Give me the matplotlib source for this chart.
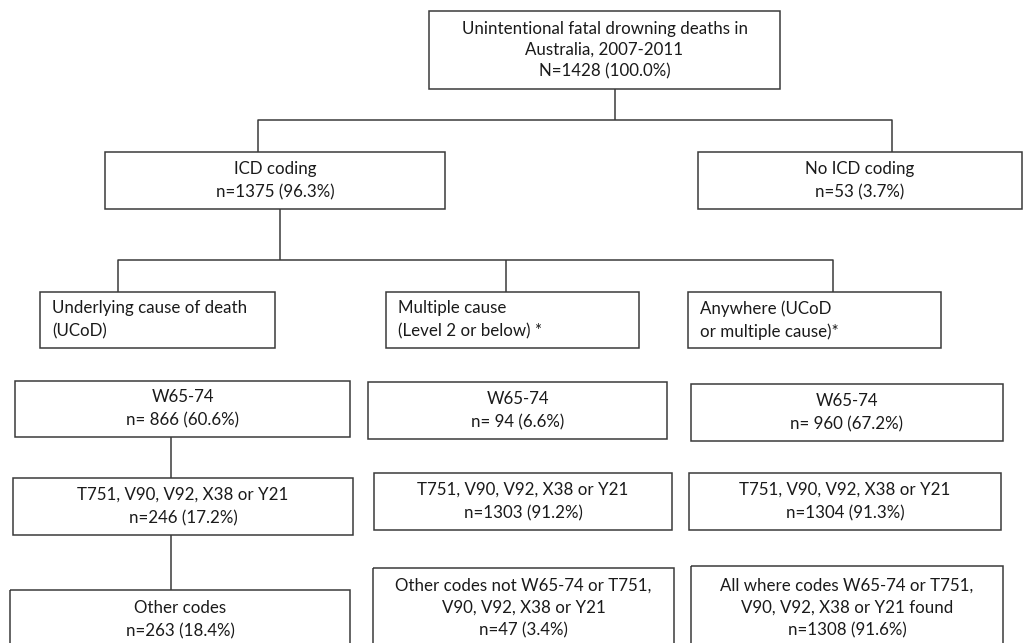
import matplotlib.pyplot as plt
from matplotlib.patches import Rectangle

plt.rcParams['font.family'] = ['Lato', 'DejaVu Sans']

# --- text content of the flowchart ---
root_label = ["Unintentional fatal drowning deaths in", "Australia, 2007-2011", "N=1428 (100.0%)"]
icd_label = ["ICD coding", "n=1375 (96.3%)"]
no_icd_label = ["No ICD coding", "n=53 (3.7%)"]
method_labels = [["Underlying cause of death", "(UCoD)"],
                 ["Multiple cause", "(Level 2 or below) *"],
                 ["Anywhere (UCoD", "or multiple cause)*"]]
ucod_results = [["W65-74", "n= 866 (60.6%)"],
                ["T751, V90, V92, X38 or Y21", "n=246 (17.2%)"],
                ["Other codes", "n=263 (18.4%)"]]
multiple_results = [["W65-74", "n= 94 (6.6%)"],
                    ["T751, V90, V92, X38 or Y21", "n=1303 (91.2%)"],
                    ["Other codes not W65-74 or T751,", "V90, V92, X38 or Y21", "n=47 (3.4%)"]]
anywhere_results = [["W65-74", "n= 960 (67.2%)"],
                    ["T751, V90, V92, X38 or Y21", "n=1304 (91.3%)"],
                    ["All where codes W65-74 or T751,", "V90, V92, X38 or Y21 found", "n=1308 (91.6%)"]]

# --- layout in pixels (x0, y0, x1, y1), y grows downward ---
root_box = (429, 11, 780, 89)
icd_box = (105, 152, 445, 209)
no_icd_box = (698, 152, 1022, 209)
method_boxes = [(40, 292, 275, 348), (386, 292, 639, 348), (688, 292, 941, 348)]
ucod_boxes = [(15, 381, 350, 437), (13, 478, 353, 535), (10, 590, 350, 649)]
multiple_boxes = [(368, 382, 667, 439), (374, 473, 672, 530), (373, 568, 674, 648)]
anywhere_boxes = [(691, 384, 1003, 441), (689, 473, 1001, 530), (691, 566, 1003, 650)]

LINE = '#3a3a3a'
fig = plt.figure(figsize=(10.24, 6.43), dpi=100)
ax = fig.add_axes([0, 0, 1, 1])
ax.set_xlim(0, 1024)
ax.set_ylim(643, 0)
ax.axis('off')


def draw_box(box, lines, gap=23, align='center', pad=12):
    x0, y0, x1, y1 = box
    ax.add_patch(Rectangle((x0, y0), x1 - x0, y1 - y0, fill=False,
                           edgecolor=LINE, linewidth=1.1, clip_on=False))
    cy = (y0 + y1) / 2
    n = len(lines)
    tx = (x0 + x1) / 2 if align == 'center' else x0 + pad
    for i, s in enumerate(lines):
        ax.text(tx, cy + (i - (n - 1) / 2) * gap, s, ha=align, va='center',
                fontsize=12.2, color='#1a1a1a')


def connect(points):
    xs, ys = zip(*points)
    ax.plot(xs, ys, color=LINE, linewidth=1.1, solid_capstyle='butt')


draw_box(root_box, root_label, gap=21)
draw_box(icd_box, icd_label)
draw_box(no_icd_box, no_icd_label)
for b, lab in zip(method_boxes, method_labels):
    draw_box(b, lab, align='left')
for boxes, labels in [(ucod_boxes, ucod_results), (multiple_boxes, multiple_results),
                      (anywhere_boxes, anywhere_results)]:
    for b, lab in zip(boxes, labels):
        draw_box(b, lab, gap=23 if len(lab) == 2 else 22)

# connectors
connect([(615, 89), (615, 120)])
connect([(258, 152), (258, 120), (892, 120), (892, 152)])
connect([(280, 209), (280, 260)])
connect([(118, 292), (118, 260), (833, 260), (833, 292)])
connect([(506, 260), (506, 292)])
connect([(171, 437), (171, 478)])
connect([(171, 535), (171, 590)])

fig.savefig('out.png', dpi=100)
